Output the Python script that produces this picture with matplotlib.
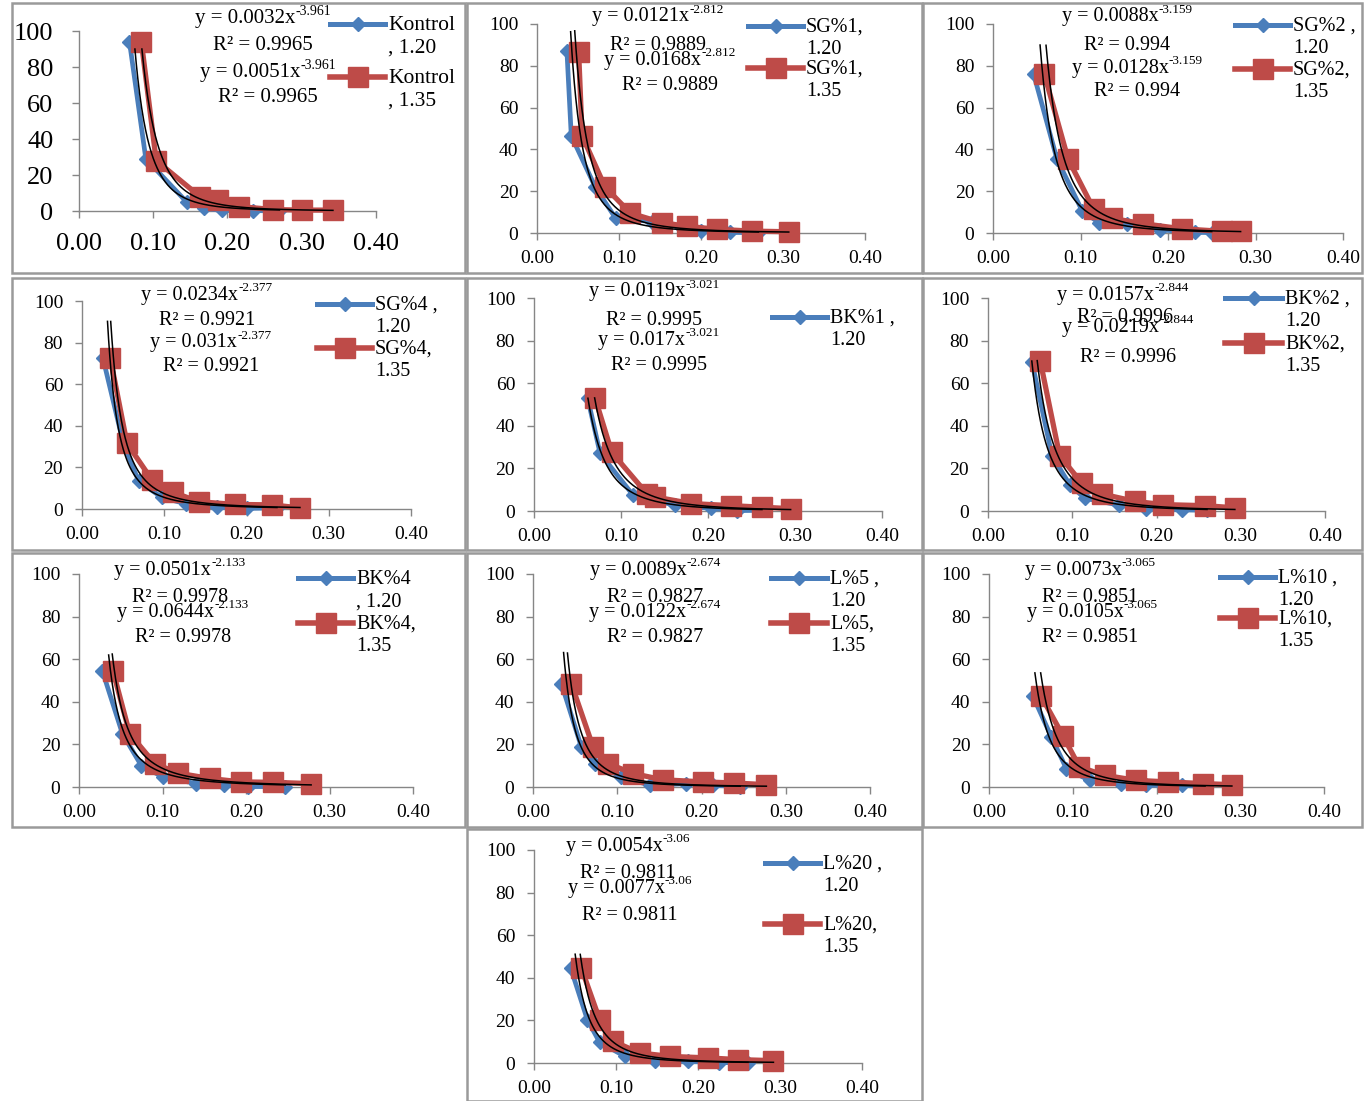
import matplotlib
matplotlib.use("Agg")
import matplotlib.pyplot as plt
import numpy as np
from matplotlib.lines import Line2D
from matplotlib.patches import Rectangle

plt.rcParams['font.family'] = ['Liberation Serif', 'DejaVu Serif']

W, H = 1364, 1101
BLUE = '#4A7EBB'
RED = '#BE4B48'
GRAY = '#868686'

# ---- data ----
blue_labels = ['Kontrol\n, 1.20', 'SG%1,\n1.20', 'SG%2 ,\n1.20', 'SG%4 ,\n1.20', 'BK%1 ,\n1.20',
               'BK%2 ,\n1.20', 'BK%4\n, 1.20', 'L%5 ,\n1.20', 'L%10 ,\n1.20', 'L%20 ,\n1.20']
red_labels = ['Kontrol\n, 1.35', 'SG%1,\n1.35', 'SG%2,\n1.35', 'SG%4,\n1.35', None,
              'BK%2,\n1.35', 'BK%4,\n1.35', 'L%5,\n1.35', 'L%10,\n1.35', 'L%20,\n1.35']

blue_x = [
    [0.068, 0.090, 0.145, 0.169, 0.192, 0.234, 0.270],
    [0.0365, 0.0418, 0.071, 0.096, 0.140, 0.175, 0.200, 0.235, 0.270],
    [0.0465, 0.073, 0.102, 0.121, 0.153, 0.191, 0.231, 0.250],
    [0.0255, 0.0507, 0.069, 0.097, 0.126, 0.164, 0.200, 0.237],
    [0.0617, 0.076, 0.114, 0.162, 0.204, 0.233, 0.262],
    [0.0522, 0.0759, 0.0976, 0.115, 0.156, 0.188, 0.230, 0.260],
    [0.028, 0.052, 0.0747, 0.1006, 0.1405, 0.174, 0.202, 0.247],
    [0.0337, 0.0574, 0.073, 0.105, 0.139, 0.182, 0.214, 0.246],
    [0.0526, 0.0745, 0.0924, 0.120, 0.158, 0.188, 0.230, 0.258],
    [0.0448, 0.065, 0.080, 0.111, 0.147, 0.188, 0.225, 0.261],
]
blue_y = [
    [94, 29, 5, 1.5, 0.3, 0.2, 0.1],
    [87, 46.5, 22, 7, 5.5, 3, 1, 0.3, 0.1],
    [76, 35.5, 10.5, 5, 4.5, 1.5, 0.3, 0.2],
    [72.5, 30.8, 13.3, 5.6, 2.5, 0.8, 0.3, 0.5],
    [53, 27, 7.4, 2.7, 1.2, 0.2, 0.3],
    [70, 26, 12, 6, 2.7, 1.1, 0.6, 0.3],
    [54.5, 25, 10, 4.7, 1.6, 0.8, 0.2, 0.2],
    [48.5, 18.8, 11, 4.7, 0.8, 1.6, 0.8, 0.2],
    [42.5, 23.5, 8.6, 3.1, 1.6, 0.8, 0.8, 0.2],
    [44.5, 20.4, 9.7, 3.1, 1.1, 0.8, 0.2, 0.1],
]
red_x = [
    [0.084, 0.104, 0.163, 0.187, 0.216, 0.261, 0.301, 0.342],
    [0.0508, 0.055, 0.083, 0.114, 0.152, 0.183, 0.219, 0.262, 0.307],
    [0.0587, 0.0857, 0.115, 0.136, 0.171, 0.216, 0.262, 0.283],
    [0.0344, 0.0547, 0.085, 0.111, 0.142, 0.186, 0.231, 0.265],
    [0.0702, 0.0894, 0.1296, 0.139, 0.181, 0.227, 0.262, 0.295],
    [0.062, 0.085, 0.1115, 0.135, 0.1747, 0.208, 0.258, 0.293],
    [0.0407, 0.0607, 0.0906, 0.1186, 0.1565, 0.194, 0.232, 0.278],
    [0.0455, 0.0713, 0.089, 0.119, 0.154, 0.202, 0.238, 0.277],
    [0.0625, 0.0884, 0.108, 0.138, 0.176, 0.214, 0.256, 0.290],
    [0.0578, 0.080, 0.0965, 0.129, 0.166, 0.212, 0.249, 0.292],
]
red_y = [
    [94, 28, 8, 6, 2.5, 0.8, 0.5, 0.5],
    [86.5, 46.5, 22, 9.5, 5, 3.2, 1.8, 0.9, 0.6],
    [76, 35.5, 11.5, 7, 4.5, 2, 0.8, 0.8],
    [72.5, 31.5, 14, 8, 3.5, 2.2, 2, 0.5],
    [53, 27.5, 8.2, 6.6, 3.5, 2.5, 1.8, 1.1],
    [70.5, 26, 13, 8, 4.5, 3, 2.5, 1.5],
    [54.5, 25, 11, 6.5, 4, 2.4, 2.2, 1.6],
    [48.5, 18.8, 11, 6.3, 3.4, 2.4, 1.9, 1.1],
    [42.5, 24, 9.4, 5.5, 3.1, 2.4, 1.6, 1.1],
    [44.5, 20.4, 10.2, 4.7, 3.1, 2.4, 1.6, 1.1],
]

# power trendlines y = a * x^-b
coef_blue = [0.0032, 0.0121, 0.0088, 0.0234, 0.0119, 0.0157, 0.0501, 0.0089, 0.0073, 0.0054]
coef_red = [0.0051, 0.0168, 0.0128, 0.031, 0.017, 0.0219, 0.0644, 0.0122, 0.0105, 0.0077]
expo = [3.961, 2.812, 3.159, 2.377, 3.021, 2.844, 2.133, 2.674, 3.065, 3.06]
r2 = ['0.9965', '0.9889', '0.994', '0.9921', '0.9995', '0.9996', '0.9978', '0.9827', '0.9851', '0.9811']
trend_start_blue = [0.0753, 0.041, 0.0538, 0.031, 0.062, 0.052, 0.0355, 0.0363, 0.0548, 0.0502]
trend_start_red = [0.0847, 0.046, 0.0606, 0.0349, 0.0697, 0.0584, 0.0398, 0.0409, 0.0617, 0.0564]

# ---- layout (pixels) ----
frames = [(12, 3, 465, 273), (467, 3, 922, 273), (923, 3, 1362, 273),
          (12, 278, 465, 550), (467, 278, 922, 550), (923, 278, 1362, 550),
          (12, 553, 465, 827), (467, 553, 922, 827), (923, 553, 1362, 827),
          (467, 829, 922, 1101)]
axes_px = [(79, 211, 376, 31), (537, 233, 865, 24), (993, 233, 1343, 24),
           (82, 509, 411, 301), (534, 511, 882, 298), (988, 511, 1325, 298),
           (79, 787, 413, 574), (533, 787, 870, 574), (989, 787, 1324, 574),
           (534, 1063, 862, 850)]
eq_px = [
    [(263, 18), (263, 45), (268, 72), (268, 97)],
    [(658, 17), (658, 45), (670, 60), (670, 85)],
    [(1127, 17), (1127, 45), (1137, 68), (1137, 91)],
    [(207, 295), (207, 320), (211, 343), (211, 367)],
    [(654, 292), (654, 320), (659, 340), (659, 365)],
    [(1123, 295), (1125, 318), (1128, 327), (1128, 357)],
    [(180, 570), (180, 598), (183, 612), (183, 638)],
    [(655, 570), (655, 598), (655, 612), (655, 638)],
    [(1090, 570), (1090, 598), (1092, 612), (1090, 638)],
    [(628, 846), (628, 874), (630, 888), (630, 916)],
]
leg_px = [(330, 385, 24, 77), (748, 803, 26, 68), (1235, 1290, 25, 69),
          (317, 372, 304, 348), (772, 827, 317, None), (1225, 1282, 298, 343),
          (298, 353, 578, 623), (771, 827, 578, 623), (1220, 1275, 577, 618),
          (765, 820, 863, 924)]


def fx(x):
    return x / W


def fy(y):
    return 1 - y / H


fig = plt.figure(figsize=(W / 100, H / 100), dpi=100)
fig.patch.set_facecolor('white')
renderer = fig.canvas.get_renderer()


def power_label(cx, cy, a, b, fs):
    # "y = ax" with a raised exponent, centred on (cx, cy)
    main = fig.text(0, fy(cy), 'y = %sx' % a, ha='left', va='center', fontsize=fs)
    sup = fig.text(0, fy(cy - 0.45 * fs), '-%s' % b, ha='left', va='center', fontsize=fs * 0.66)
    wm = main.get_window_extent(renderer).width
    ws = sup.get_window_extent(renderer).width
    left = cx - (wm + ws) / 2
    main.set_x(fx(left))
    sup.set_x(fx(left + wm))


for i in range(10):
    big = (i == 0)
    tick_fs = 19 if big else 14
    eq_fs = 15 if big else 14.5
    leg_fs = 15.5 if big else 14.5

    x0, y0, x1, y1 = frames[i]
    fig.add_artist(Rectangle((fx(x0), fy(y1)), fx(x1 - x0), (y1 - y0) / H,
                             transform=fig.transFigure, fill=False,
                             edgecolor='#9a9a9a', lw=1.8))

    l, b, r, t = axes_px[i]
    ax = fig.add_axes([fx(l), fy(b), fx(r - l), (b - t) / H])
    ax.set_facecolor('none')

    ax.plot(blue_x[i], blue_y[i], '-D', color=BLUE, lw=3.4, ms=7.5, clip_on=False, zorder=3)
    ax.plot(red_x[i], red_y[i], '-s', color=RED, lw=3.8, ms=14.5, clip_on=False, zorder=4)

    for a, xs, xe in [(coef_blue[i], trend_start_blue[i], blue_x[i][-1]),
                      (coef_red[i], trend_start_red[i], red_x[i][-1])]:
        xt = np.linspace(xs, xe, 300)
        ax.plot(xt, a * xt ** (-expo[i]), color='black', lw=1.1, zorder=5, clip_on=False)

    ax.set_xlim(0, 0.4)
    ax.set_ylim(0, 100)
    ax.set_xticks([0, 0.1, 0.2, 0.3, 0.4])
    ax.set_xticklabels(['0.00', '0.10', '0.20', '0.30', '0.40'])
    ax.set_yticks([0, 20, 40, 60, 80, 100])
    for s in ['top', 'right']:
        ax.spines[s].set_visible(False)
    for s in ['left', 'bottom']:
        ax.spines[s].set_color(GRAY)
        ax.spines[s].set_linewidth(1)
    ax.tick_params(axis='both', direction='out', length=5, width=1, color=GRAY,
                   labelsize=tick_fs, labelcolor='black')
    ax.tick_params(axis='x', pad=11 if big else 7.5)
    ax.tick_params(axis='y', pad=13.5 if big else 8.5)

    # equations
    e = eq_px[i]
    power_label(e[0][0], e[0][1], coef_blue[i], expo[i], eq_fs)
    power_label(e[2][0], e[2][1], coef_red[i], expo[i], eq_fs)
    for (cx, cy) in [e[1], e[3]]:
        fig.text(fx(cx), fy(cy), 'R² = %s' % r2[i], ha='center', va='center', fontsize=eq_fs)

    # legend
    lx0, lx1, yb, yr = leg_px[i]
    entries = [(yb, BLUE, 'D', 7.5, 3.6, blue_labels[i]), (yr, RED, 's', 14.5, 4, red_labels[i])]
    for yy, col, mk, ms, lw, lab in entries:
        if lab is None:
            continue
        fig.add_artist(Line2D([fx(lx0), fx((lx0 + lx1) / 2), fx(lx1)], [fy(yy)] * 3,
                              transform=fig.transFigure, color=col, lw=lw,
                              marker=mk, ms=ms, markevery=[1]))
        fig.text(fx(lx1 + 3), fy(yy - 8), lab, ha='left', va='top',
                 fontsize=leg_fs, linespacing=1.22)

fig.savefig('out.png', dpi=100, facecolor='white')
